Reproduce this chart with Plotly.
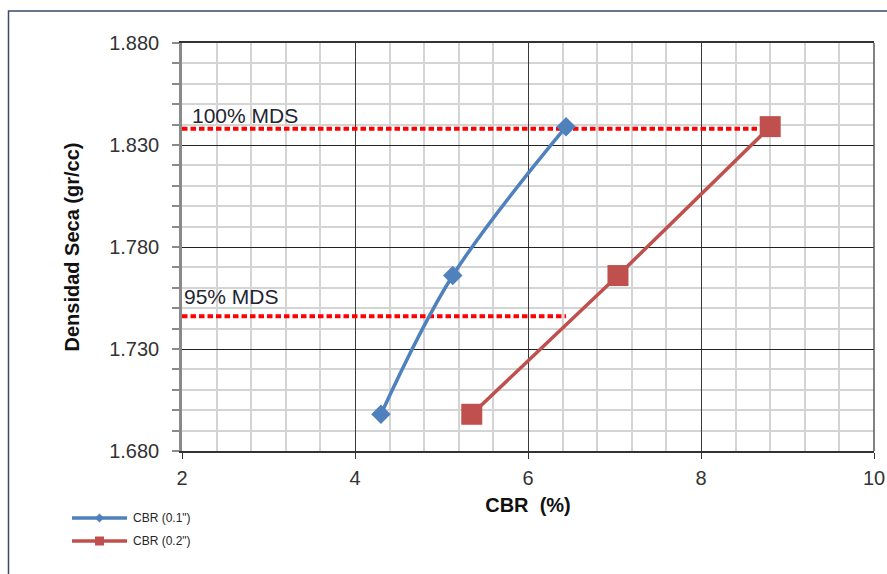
import plotly.graph_objects as go

# CBR values (%) for each penetration and the matching dry densities (gr/cc)
cbr_01 = [4.30, 5.13, 6.44]
cbr_02 = [5.35, 7.04, 8.80]
densidad = [1.698, 1.766, 1.839]

# Maximum dry density (MDS) reference levels
mds_100 = 1.838
mds_95 = 1.746
mds_100_x = [2.0, 8.80]
mds_95_x = [2.0, 6.44]

series_names = ['CBR (0.1")', 'CBR (0.2")']
blue = "#4F81BD"
red = "#C0504D"
font = "Liberation Sans, Arial, sans-serif"

W, H = 887, 574
ML, MR, MT, MB = 182, 13, 43, 123
PW, PH = W - ML - MR, H - MT - MB


def px_x(px):
    return (px - ML) / PW


def px_y(py):
    return (H - MB - py) / PH


fig = go.Figure()

fig.add_trace(go.Scatter(
    x=mds_100_x, y=[mds_100] * 2, mode="lines", showlegend=False,
    line=dict(color="#FF0000", width=4, dash="5.5px,3px"), hoverinfo="skip"))
fig.add_trace(go.Scatter(
    x=mds_95_x, y=[mds_95] * 2, mode="lines", showlegend=False,
    line=dict(color="#FF0000", width=4, dash="5.5px,3px"), hoverinfo="skip"))

fig.add_trace(go.Scatter(
    x=cbr_01, y=densidad, mode="lines+markers", name=series_names[0],
    showlegend=False,
    line=dict(color=blue, width=3.5, shape="spline", smoothing=1),
    marker=dict(symbol="diamond", size=15, color=blue)))
fig.add_trace(go.Scatter(
    x=cbr_02, y=densidad, mode="lines+markers", name=series_names[1],
    showlegend=False,
    line=dict(color=red, width=3.5),
    marker=dict(symbol="square", size=21, color=red)))

shapes = []
# outer chart frame
shapes.append(dict(type="rect", xref="paper", yref="paper",
                   x0=px_x(8.5), x1=px_x(905), y0=px_y(600), y1=px_y(11),
                   line=dict(color="#3B4A6B", width=1.5), layer="below"))
# right edge of plot area
shapes.append(dict(type="line", xref="paper", yref="paper",
                   x0=1, x1=1, y0=0, y1=1,
                   line=dict(color="#595959", width=1.5)))

# legend entries drawn beside the axis block
legend_rows = [(518, blue, "diamond"), (541, red, "square")]
annotations = []
for (py, col, sym), name in zip(legend_rows, series_names):
    shapes.append(dict(type="line", xref="paper", yref="paper",
                       x0=px_x(72), x1=px_x(127), y0=px_y(py), y1=px_y(py),
                       line=dict(color=col, width=3.5)))
    cx = 99.5
    if sym == "diamond":
        d = 4.5
        path = (f"M {px_x(cx - d)} {px_y(py)} L {px_x(cx)} {px_y(py - d)} "
                f"L {px_x(cx + d)} {px_y(py)} L {px_x(cx)} {px_y(py + d)} Z")
        shapes.append(dict(type="path", xref="paper", yref="paper", path=path,
                           fillcolor=col, line=dict(color=col, width=0)))
    else:
        s = 4.5
        shapes.append(dict(type="rect", xref="paper", yref="paper",
                           x0=px_x(cx - s), x1=px_x(cx + s),
                           y0=px_y(py + s), y1=px_y(py - s),
                           fillcolor=col, line=dict(color=col, width=0)))
    annotations.append(dict(xref="paper", yref="paper", x=px_x(131), y=px_y(py),
                            xanchor="left", yanchor="middle", showarrow=False,
                            text=name, font=dict(family=font, size=12, color="#262626")))

annotations.append(dict(x=2.09, y=mds_100, xref="x", yref="y", xanchor="left",
                        yanchor="bottom", showarrow=False, text="100% MDS",
                        font=dict(family=font, size=21, color="#1F2633")))
annotations.append(dict(x=2.0, y=mds_95, xref="x", yref="y", xanchor="left",
                        yanchor="bottom", yshift=6, showarrow=False, text="95% MDS",
                        font=dict(family=font, size=21, color="#1F2633")))

fig.update_layout(
    width=W, height=H,
    margin=dict(l=ML, r=MR, t=MT, b=MB, autoexpand=False),
    paper_bgcolor="white", plot_bgcolor="white",
    showlegend=False,
    shapes=shapes, annotations=annotations,
    font=dict(family=font, color="#333333"),
)

fig.update_xaxes(
    range=[2, 10], tick0=2, dtick=2, tickformat="d",
    showline=True, linecolor="#333333", linewidth=1.5, mirror=True,
    ticks="outside", ticklen=6, tickcolor="#333333", tickwidth=1,
    ticklabelstandoff=2,
    showgrid=True, gridcolor="#3a3a3a", gridwidth=1,
    minor=dict(dtick=0.4, tick0=2, showgrid=True, gridcolor="#D4D4D4", gridwidth=1.5),
    tickfont=dict(family=font, size=20, color="#333333"),
    title=dict(text="<b>CBR  (%)</b>", standoff=10,
               font=dict(family=font, size=20, color="#111111")),
    zeroline=False, automargin=False,
)
fig.update_yaxes(
    range=[1.68, 1.88], tick0=1.68, dtick=0.05, tickformat=".3f",
    showline=True, linecolor="#8A8A8A", linewidth=2.5,
    ticks="outside", ticklen=7, tickcolor="#8A8A8A", tickwidth=2,
    ticklabelstandoff=9,
    showgrid=True, gridcolor="#222222", gridwidth=1,
    minor=dict(dtick=0.01, tick0=1.68, showgrid=True, gridcolor="#D4D4D4", gridwidth=1.5,
               ticks="outside", ticklen=7, tickcolor="#8A8A8A", tickwidth=2),
    tickfont=dict(family=font, size=20, color="#333333"),
    title=dict(text="<b>Densidad Seca (gr/cc)</b>", standoff=25,
               font=dict(family=font, size=20, color="#111111")),
    zeroline=False, automargin=False,
)

fig.write_html("out.html")
